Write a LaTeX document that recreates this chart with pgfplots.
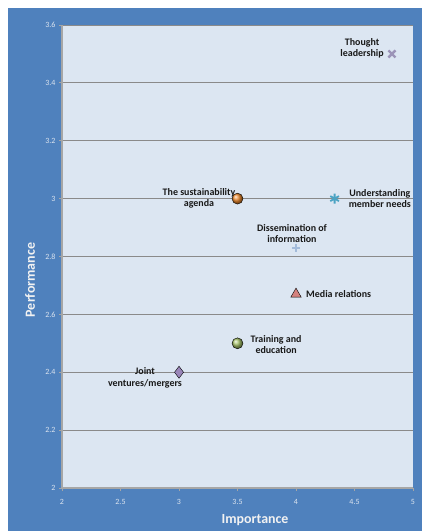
\documentclass[border=0pt]{standalone}
\usepackage{pgfplots}
\pgfplotsset{compat=1.18}
\usepackage{fontspec}
\setmainfont{Carlito}
\definecolor{bgblue}{HTML}{4F81BD}
\definecolor{plotbg}{HTML}{DCE6F2}
\definecolor{gridgray}{HTML}{8A8A8A}
\definecolor{axisgray}{HTML}{A6A6A6}
\definecolor{ticktext}{HTML}{DCE4EF}
\definecolor{xcol}{HTML}{9C94B8}
\definecolor{orng}{HTML}{EE8A2E}
\definecolor{teal}{HTML}{4BA3C3}
\definecolor{pluscol}{HTML}{A3BBDA}
\definecolor{tricol}{HTML}{D4827F}
\definecolor{grn}{HTML}{A8C46A}
\definecolor{dia}{HTML}{9A86B9}
\tikzset{lab/.style={font=\fontsize{10}{11.5}\selectfont\bfseries, text=black!90, align=center, inner sep=0pt}}
\begin{document}
\begin{tikzpicture}[x=1bp,y=1bp]
\useasboundingbox (0,0) rectangle (422,531);
\fill[bgblue] (8,0) rectangle (422,523);
\begin{axis}[
  at={(62bp,43bp)}, anchor=south west,
  scale only axis, width=351bp, height=463bp,
  xmin=2, xmax=5, ymin=2, ymax=3.6,
  xtick={2,2.5,3,3.5,4,4.5,5},
  ytick={2,2.2,2.4,2.6,2.8,3,3.2,3.4,3.6},
  axis background/.style={fill=plotbg},
  ymajorgrids, grid style={draw=gridgray, line width=0.9bp},
  axis x line*=bottom, axis y line*=left,
  axis line style={draw=axisgray, line width=1.6bp, -},
  tick style={draw=axisgray, line width=0.8bp},
  major tick length=3bp,
  tick align=outside,
  ticklabel style={font=\fontsize{8}{9}\selectfont, text=ticktext},
  xticklabel style={yshift=-5bp},
  /pgf/number format/assume math mode=true,
  clip=false,
]
\addplot[only marks, mark=x, mark size=5bp, mark options={draw=xcol, line width=2.4bp}]
  coordinates {(4.82,3.5)} node[lab, anchor=east, xshift=-8bp, yshift=5.5bp] {Thought\\leadership};
\addplot[only marks, mark=ball, mark size=5.5bp, mark options={ball color=orng}]
  coordinates {(3.5,3.0)} node[lab, anchor=east, xshift=-2bp] {The sustainability\\agenda};
\addplot[only marks, mark=asterisk, mark size=5bp, mark options={draw=teal, line width=1.8bp}]
  coordinates {(4.33,3.0)} node[lab, anchor=west, xshift=14bp] {Understanding\\member needs};
\addplot[only marks, mark=+, mark size=4bp, mark options={draw=pluscol, line width=1.6bp}]
  coordinates {(4.0,2.83)} node[lab, anchor=south, yshift=5bp, xshift=-4bp] {Dissemination of\\information};
\addplot[only marks, mark=triangle*, mark size=6bp, mark options={fill=tricol, draw=none}]
  coordinates {(4.0,2.67)} node[lab, anchor=west, xshift=10bp] {Media relations};
\addplot[only marks, mark=ball, mark size=5.5bp, mark options={ball color=grn}]
  coordinates {(3.5,2.5)} node[lab, anchor=west, xshift=13bp, yshift=-1bp] {Training and\\education};
\addplot[only marks, mark=diamond*, mark size=6bp, mark options={fill=dia, draw=none}]
  coordinates {(3.0,2.4)} node[lab, anchor=center, xshift=-34bp, yshift=-5.5bp] {Joint\\ventures/mergers};
\end{axis}
\node[font=\fontsize{14}{16}\selectfont\bfseries, text=white!95!black] at (255,11) {Importance};
\node[font=\fontsize{14}{16}\selectfont\bfseries, text=white!95!black, rotate=90] at (30,251) {Performance};
\end{tikzpicture}
\end{document}
